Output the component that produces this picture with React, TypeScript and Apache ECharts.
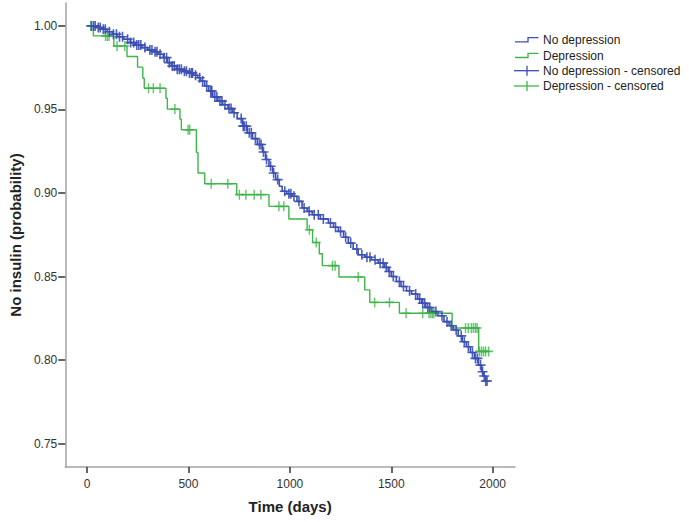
import React, { useEffect, useRef } from "react";
import * as echarts from "echarts";

// ---- Data ----
// Kaplan-Meier steps: [day, survival from that day on]
const noDepTimes = [15, 45, 70, 99, 125, 150, 180, 213, 240, 270, 300, 327, 350, 376, 395, 415, 440, 474, 500, 523, 545, 560, 580, 600, 620, 645, 669, 695, 718, 740, 767, 790, 816, 840, 865, 880, 897, 915, 930, 948, 962, 985, 1011, 1035, 1060, 1085, 1110, 1150, 1190, 1215, 1239, 1265, 1288, 1312, 1337, 1370, 1402, 1435, 1467, 1485, 1500, 1525, 1548, 1575, 1600, 1630, 1650, 1670, 1700, 1730, 1760, 1785, 1805, 1830, 1850, 1870, 1890, 1910, 1930, 1945, 1955, 1965, 1975];
const noDepSurv = [1.0, 0.999, 0.998, 0.9965, 0.995, 0.9935, 0.992, 0.99, 0.9885, 0.987, 0.9855, 0.9845, 0.983, 0.981, 0.978, 0.976, 0.974, 0.9728, 0.9718, 0.9705, 0.969, 0.967, 0.964, 0.961, 0.9575, 0.955, 0.9528, 0.9505, 0.948, 0.9445, 0.94, 0.936, 0.9325, 0.929, 0.9245, 0.92, 0.916, 0.912, 0.908, 0.904, 0.901, 0.8995, 0.898, 0.895, 0.891, 0.889, 0.887, 0.8845, 0.882, 0.8795, 0.877, 0.8735, 0.87, 0.8665, 0.863, 0.8615, 0.86, 0.858, 0.8555, 0.853, 0.85, 0.847, 0.844, 0.8415, 0.8395, 0.8365, 0.834, 0.8315, 0.829, 0.8265, 0.823, 0.8205, 0.818, 0.8145, 0.811, 0.808, 0.8045, 0.801, 0.797, 0.793, 0.7905, 0.7875, 0.7875];
const noDepCensored = [22, 32, 40, 55, 65, 80, 90, 110, 130, 145, 160, 175, 200, 215, 230, 245, 255, 265, 285, 310, 320, 335, 345, 360, 380, 392, 405, 420, 430, 445, 455, 465, 480, 490, 505, 515, 520, 535, 555, 570, 590, 610, 615, 630, 640, 655, 665, 680, 700, 710, 725, 760, 770, 775, 785, 800, 810, 830, 850, 858, 870, 885, 905, 920, 940, 975, 995, 1005, 1020, 1045, 1070, 1095, 1120, 1140, 1165, 1200, 1225, 1250, 1275, 1300, 1330, 1355, 1380, 1395, 1420, 1445, 1460, 1475, 1490, 1510, 1540, 1560, 1590, 1620, 1640, 1655, 1665, 1680, 1690, 1720, 1750, 1775, 1795, 1820, 1845, 1860, 1880, 1900, 1915, 1925, 1940, 1950, 1958, 1966, 1972];

const depTimes = [15, 31, 132, 197, 249, 275, 282, 389, 396, 458, 465, 539, 547, 580, 738, 897, 995, 1085, 1112, 1145, 1160, 1242, 1369, 1394, 1540, 1800, 1931, 1982];
const depSurv = [1.0, 0.994, 0.988, 0.9817, 0.9753, 0.9687, 0.9627, 0.9567, 0.9502, 0.9442, 0.9378, 0.9243, 0.912, 0.9055, 0.899, 0.892, 0.8844, 0.878, 0.8704, 0.8636, 0.8565, 0.8497, 0.842, 0.8345, 0.828, 0.8192, 0.8052, 0.8052];
const depCensored = [18, 91, 100, 108, 148, 186, 303, 327, 360, 433, 498, 506, 612, 694, 751, 783, 824, 857, 946, 970, 1096, 1130, 1210, 1223, 1337, 1418, 1491, 1573, 1655, 1686, 1695, 1703, 1710, 1866, 1880, 1895, 1905, 1915, 1923, 1935, 1945, 1955, 1965, 1980];

const xTicks = [0, 500, 1000, 1500, 2000];
const yTicks = [0.75, 0.8, 0.85, 0.9, 0.95, 1.0];

const legendNames = ["No depression", "Depression", "No depression - censored", "Depression - censored"];

const BLUE = "#3b4fb3";
const GREEN = "#3fb54a";
const FONT = "Liberation Sans, Arial, sans-serif";

// survival at time t from a KM step table (lookup of the last step at or before t)
function survAt(times: number[], surv: number[], t: number): number {
  let v = surv[0];
  for (let i = 0; i < times.length; i++) {
    if (times[i] <= t) v = surv[i];
    else break;
  }
  return v;
}

const PLUS = "path://M0,4.2H10V5.8H0Z M4.2,0H5.8V10H4.2Z";

export default function App() {
  const ref = useRef<HTMLDivElement>(null);
  useEffect(() => {
    if (!ref.current) return;
    const chart = echarts.init(ref.current, undefined, { renderer: "svg" });

    const noDepLine = noDepTimes.map((t, i) => [t, noDepSurv[i]]);
    const depLine = depTimes.map((t, i) => [t, depSurv[i]]);
    const noDepCens = noDepCensored.map((t) => [t, survAt(noDepTimes, noDepSurv, t)]);
    const depCens = depCensored.map((t) => [t, survAt(depTimes, depSurv, t)]);

    const legendY = [40, 55.7, 70.7, 86];
    const graphic: any[] = [];
    [BLUE, GREEN].forEach((c, i) => {
      const y = legendY[i];
      graphic.push({
        type: "polyline",
        shape: { points: [[515, y + 1.8], [528, y + 1.8], [528, y - 2.3], [538.5, y - 2.3]] },
        style: { stroke: c, lineWidth: 1.3, fill: null },
      });
    });
    [BLUE, GREEN].forEach((c, i) => {
      const y = legendY[i + 2];
      graphic.push({ type: "line", shape: { x1: 514, y1: y, x2: 539, y2: y }, style: { stroke: c, lineWidth: 1.3 } });
      graphic.push({ type: "line", shape: { x1: 527, y1: y - 5, x2: 527, y2: y + 5 }, style: { stroke: c, lineWidth: 1.3 } });
    });
    legendNames.forEach((n, i) => {
      graphic.push({
        type: "text",
        x: 543,
        y: legendY[i],
        style: { text: n, fill: "#222", font: `12px ${FONT}`, verticalAlign: "middle", align: "left" },
      });
    });

    chart.setOption({
      animation: false,
      backgroundColor: "#ffffff",
      grid: { left: 61, right: 174, top: 3, bottom: 55 },
      xAxis: {
        type: "value",
        min: -107.5,
        max: 2110,
        name: "Time (days)",
        nameLocation: "middle",
        nameGap: 32,
        nameTextStyle: { fontFamily: FONT, fontWeight: "bold", fontSize: 15, color: "#222" },
        axisLine: { show: true, onZero: false, lineStyle: { color: "#a3a3a3", width: 1.5 } },
        axisTick: { show: true, length: 6, lineStyle: { color: "#333", width: 1.5 }, customValues: xTicks },
        axisLabel: { fontFamily: FONT, fontSize: 12, color: "#333", margin: 11, customValues: xTicks, formatter: (v: number) => String(v) },
        splitLine: { show: false },
      },
      yAxis: {
        type: "value",
        min: 0.736,
        max: 1.0137,
        name: "No insulin (probability)",
        nameLocation: "middle",
        nameGap: 40,
        nameTextStyle: { fontFamily: FONT, fontWeight: "bold", fontSize: 15, color: "#222" },
        axisLine: { show: true, onZero: false, lineStyle: { color: "#a3a3a3", width: 1.5 } },
        axisTick: { show: true, length: 7, lineStyle: { color: "#333", width: 1.5 }, customValues: yTicks },
        axisLabel: { fontFamily: FONT, fontSize: 12, color: "#333", margin: 8, customValues: yTicks, formatter: (v: number) => v.toFixed(2) },
        splitLine: { show: false },
      },
      graphic,
      series: [
        {
          name: legendNames[0],
          type: "line",
          step: "end",
          data: noDepLine,
          showSymbol: false,
          lineStyle: { color: BLUE, width: 1.6 },
          z: 3,
        },
        {
          name: legendNames[1],
          type: "line",
          step: "end",
          data: depLine,
          showSymbol: false,
          lineStyle: { color: GREEN, width: 1.4 },
          z: 2,
        },
        {
          name: legendNames[2],
          type: "scatter",
          data: noDepCens,
          symbol: PLUS,
          symbolSize: [10, 10],
          itemStyle: { color: BLUE, opacity: 0.9 },
          z: 4,
        },
        {
          name: legendNames[3],
          type: "scatter",
          data: depCens,
          symbol: PLUS,
          symbolSize: [9, 10],
          itemStyle: { color: GREEN },
          z: 3,
        },
      ],
    });
    return () => chart.dispose();
  }, []);
  return (
    <div
      ref={ref}
      style={{ position: "fixed", left: 0, top: 0, width: "689px", height: "522px" }}
    />
  );
}
